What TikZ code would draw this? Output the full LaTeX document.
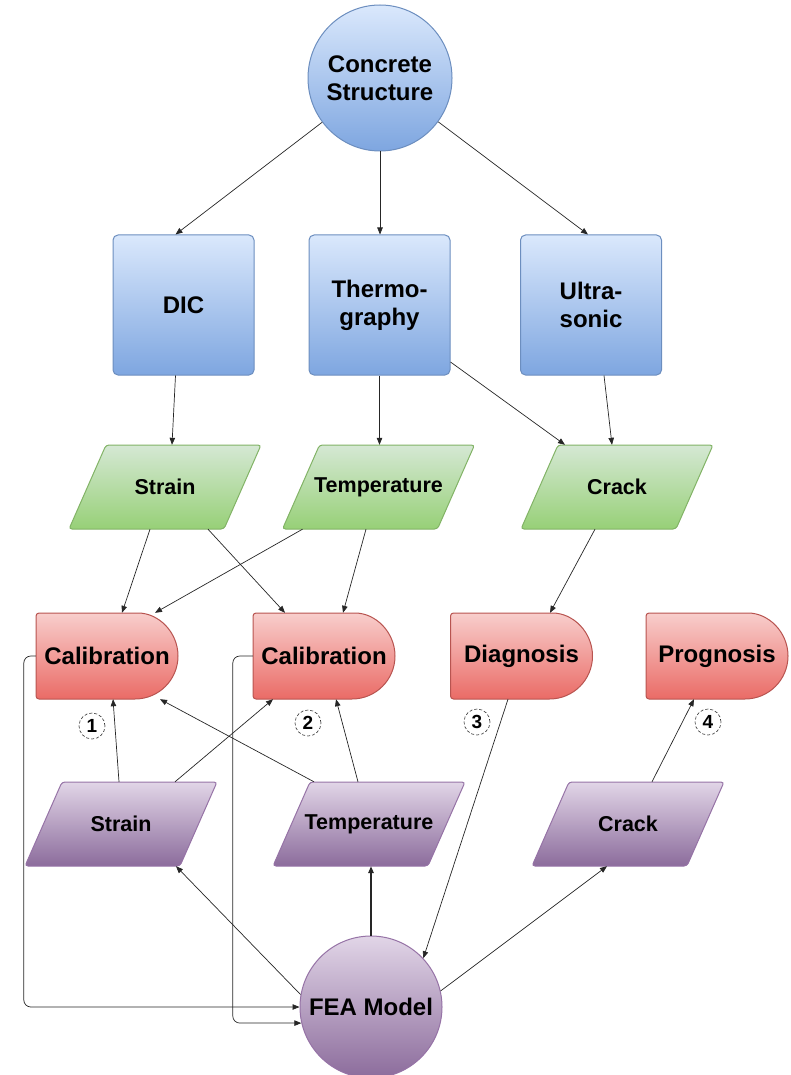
\documentclass[tikz,border=0pt]{standalone}
\usepackage{fontspec}
\setmainfont{Liberation Sans}
\usetikzlibrary{arrows.meta,shapes.geometric,shadings,calc}
\definecolor{btop}{HTML}{DAE8FC}\definecolor{bbot}{HTML}{7EA6E0}\definecolor{bbd}{HTML}{6C8EBF}
\definecolor{gtop}{HTML}{D5E8D4}\definecolor{gbot}{HTML}{97D077}\definecolor{gbd}{HTML}{82B366}
\definecolor{rtop}{HTML}{F8CECC}\definecolor{rbot}{HTML}{EA6B66}\definecolor{rbd}{HTML}{B85450}
\definecolor{ptop}{HTML}{E1D5E7}\definecolor{pbot}{HTML}{8C6C9C}\definecolor{pbd}{HTML}{9673A6}
\tikzset{
  conn/.style={draw=black!85, line width=0.7pt, -{Triangle[length=7pt,width=5.5pt]}},
  thickconn/.style={conn, line width=1.4pt},
  lbl/.style={font=\bfseries\fontsize{21.5}{25}\selectfont, align=center, inner sep=0pt},
  big/.style={font=\bfseries\fontsize{24}{28}\selectfont, align=center, inner sep=0pt},
  bluebox/.style={rectangle, rounded corners=5pt, draw=bbd, line width=1pt, top color=btop, bottom color=bbot, minimum width=141pt, minimum height=140pt, big},
  bigcircle/.style={ellipse, line width=1pt, big},
  num/.style={circle, draw=black!80, densely dashed, line width=0.6pt, minimum size=26pt, inner sep=0pt, font=\bfseries\fontsize{19}{19}\selectfont},
}
\newcommand\paragram[5]{%
  \path[rounded corners=3pt, draw=#4bd, line width=1pt, top color=#4top, bottom color=#4bot]
    (#2-59,#3-42) -- (#2+96,#3-42) -- (#2+59,#3+42) -- (#2-96,#3+42) -- cycle;
  \node[lbl, minimum width=155pt, minimum height=84pt] (#1) at (#2,#3) {#5};}
\newcommand\delayshape[4]{%
  \path[draw=rbd, line width=1pt, top color=rtop, bottom color=rbot]
    (#2+28,#3-43) arc(-90:90:43) [rounded corners=3pt] -- (#2-71,#3+43) -- (#2-71,#3-43) -- cycle;
  \node[big, minimum width=142pt, minimum height=86pt] (#1) at (#2,#3) {#4};}
\newcommand\zw[1]{\makebox[0pt]{#1}}
\begin{document}
\begin{tikzpicture}[x=1pt,y=-1pt]
\useasboundingbox (0,0) rectangle (790,1075);
% top
\node[bigcircle, draw=bbd, top color=btop, bottom color=bbot, minimum width=144pt, minimum height=146pt] (cs) at (380,78) {\zw{Concrete}\\\zw{Structure}};
\node[bluebox] (dic) at (183.5,305) {DIC};
\node[bluebox] (thermo) at (379.5,305) {Thermo-\\graphy};
\node[bluebox] (ultra) at (591,305) {Ultra-\\sonic};
% green
\paragram{gs}{165}{487}{g}{Strain}
\paragram{gt}{378.5}{487}{g}{Temperature}
\paragram{gc}{617}{487}{g}{Crack}
% red
\delayshape{cal1}{107}{656}{Calibration}
\delayshape{cal2}{324}{656}{Calibration}
\delayshape{diag}{521.5}{656}{Diagnosis}
\delayshape{prog}{717}{656}{Prognosis}
% purple
\paragram{ps}{121}{824}{p}{Strain}
\paragram{pt}{369}{824}{p}{Temperature}
\paragram{pc}{628}{824}{p}{Crack}
% FEA
\node[bigcircle, draw=pbd, top color=ptop, bottom color=pbot, minimum width=142pt, minimum height=142pt] (fea) at (371,1007) {\zw{FEA Model}};
% numbers
\node[num] (n1) at (92,726) {1};
\node[num] (n2) at (308,723) {2};
\node[num] (n3) at (477,722) {3};
\node[num] (n4) at (708,722) {4};
% connectors
\draw[conn] (cs) -- ([xshift=-8pt]dic.north);
\draw[conn] (cs.south) -- (cs.south |- thermo.north);
\draw[conn] (cs) -- ([xshift=-3pt]ultra.north);
\draw[conn] ([xshift=-8pt]dic.south) -- ([xshift=7pt]gs.north);
\draw[conn] (thermo.south) -- (thermo.south |- gt.north);
\draw[conn] ([yshift=-57pt]thermo.east) -- ([xshift=-52pt]gc.north);
\draw[conn] ([xshift=13pt]ultra.south) -- ([xshift=-5pt]gc.north);
\draw[conn] ([xshift=-15pt]gs.south) -- ([xshift=15pt]cal1.north);
\draw[conn] ([xshift=43pt]gs.south) -- ([xshift=-39pt]cal2.north);
\draw[conn] ([xshift=-76pt]gt.south) -- ([xshift=48pt]cal1.north);
\draw[conn] ([xshift=-12.5pt]gt.south) -- ([xshift=19pt]cal2.north);
\draw[conn] ([xshift=-22pt]gc.south) -- ([xshift=28.5pt]diag.north);
\draw[conn] ([xshift=-2pt]ps.north) -- ([xshift=6pt]cal1.south);
\draw[conn] ([xshift=54pt]ps.north) -- ([xshift=-51pt]cal2.south);
\draw[conn] ([xshift=-55pt]pt.north) -- ([xshift=53pt]cal1.south);
\draw[conn] ([xshift=-11pt]pt.north) -- ([xshift=12pt]cal2.south);
\draw[conn] ([xshift=-13.5pt]diag.south) -- (fea.43);
\draw[conn] ([xshift=24pt]pc.north) -- ([xshift=-23pt]prog.south);
\draw[conn] (fea.170) -- ([xshift=55pt]ps.south);
\draw[thickconn] (fea.north) -- (fea.north |- pt.south);
\draw[conn] (fea.13) -- ([xshift=-21pt]pc.south);
\draw[conn, rounded corners=7pt] (cal1.west) -- ++(-12,0) |- (fea.west);
\draw[conn, rounded corners=7pt] (cal2.west) -- ++(-20,0) |- (fea.193);
\end{tikzpicture}
\end{document}
